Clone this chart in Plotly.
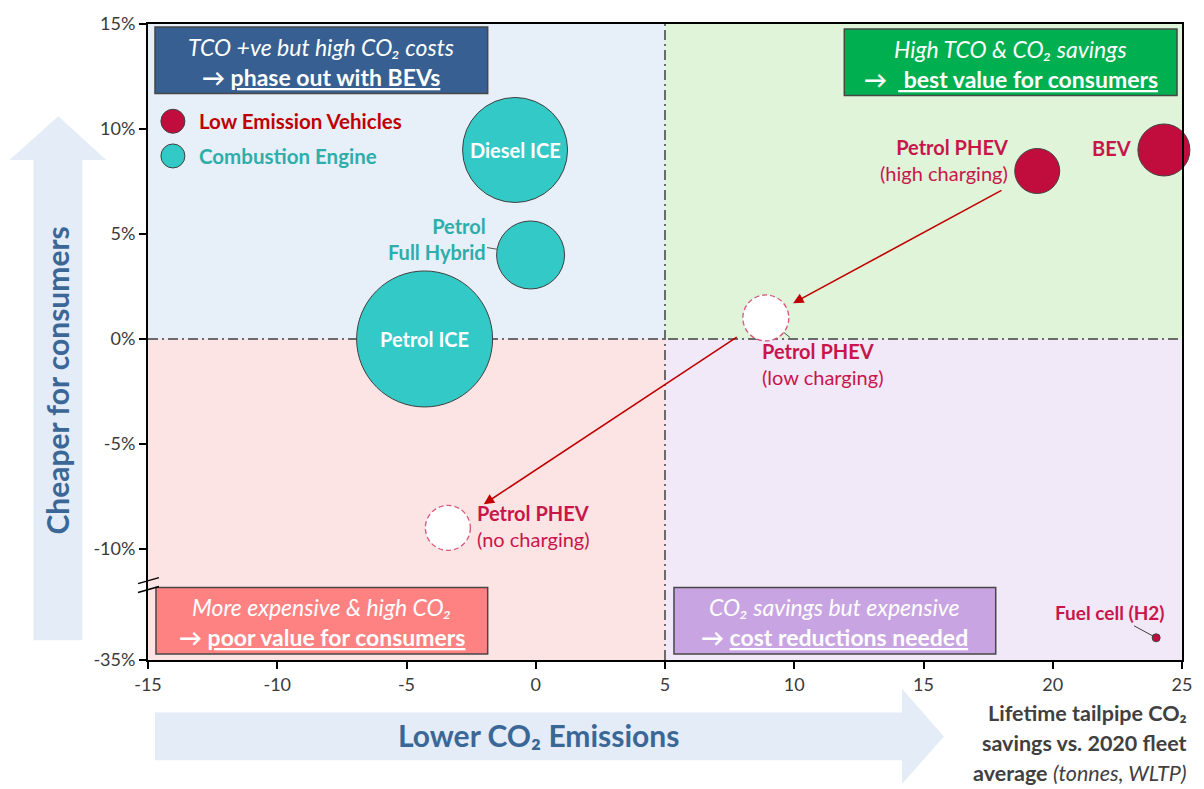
import plotly.graph_objects as go

# ---------------- data ----------------
vehicles = ["Petrol ICE", "Diesel ICE", "Petrol Full Hybrid",
            "Petrol PHEV (no charging)", "Petrol PHEV (low charging)",
            "Petrol PHEV (high charging)", "BEV", "Fuel cell (H2)"]
powertrain = ["Combustion Engine", "Combustion Engine", "Combustion Engine",
              "Low Emission Vehicles", "Low Emission Vehicles",
              "Low Emission Vehicles", "Low Emission Vehicles",
              "Low Emission Vehicles"]
co2_savings = [-4.3, -0.8, -0.2, -3.4, 8.9, 19.4, 24.3, 24.0]     # tonnes
tco_advantage = [0, 9, 4, -9, 1, 8, 9, -30]                      # %
bubble_value = [13.6, 10.5, 6.8, 4.5, 4.6, 4.5, 5.2, 0.8]

x_ticks = [-15, -10, -5, 0, 5, 10, 15, 20, 25]
x_tick_labels = ["-15", "-10", "-5", "0", "5", "10", "15", "20", "25"]
y_ticks = [15, 10, 5, 0, -5, -10, -35]
y_tick_labels = ["15%", "10%", "5%", "0%", "-5%", "-10%", "-35%"]

# ---------------- layout constants ----------------
W, H = 1204, 789
M_L, M_R, M_T, M_B = 148, 18, 19, 129
PW, PH = W - M_L - M_R, H - M_T - M_B

FONT = "Lato, 'Open Sans', sans-serif"
LEV_FILL, LEV_TEXT, LEV_LEGEND = "#C00D3D", "#C8164B", "#C00000"
ICE_FILL, ICE_TEXT = "#33C9C6", "#2DAEAA"
AXIS_TEXT = "#3A3A3A"
ARROW_BLUE, ARROW_TEXT = "#E3ECF7", "#3B6797"
HOLLOW = {"Petrol PHEV (no charging)", "Petrol PHEV (low charging)"}

# broken y axis: values below -10% are compressed down to -35%
Y_BREAK, Y_BOTTOM, Y_BOTTOM_T = -10.0, -35.0, -15.29


def ty(v):
    if v >= Y_BREAK:
        return v
    return Y_BREAK + (v - Y_BREAK) * (Y_BOTTOM_T - Y_BREAK) / (Y_BOTTOM - Y_BREAK)


def px(xp):
    return (xp - M_L) / PW


def py(yp):
    return (H - M_B - yp) / PH


idx = {name: i for i, name in enumerate(vehicles)}
X_MIN, X_MAX, Y_MAX = -15, 25, 15
Y_MIN = ty(Y_BOTTOM)

fig = go.Figure()

# ---------------- bubbles ----------------
for group, fill in [("Combustion Engine", ICE_FILL), ("Low Emission Vehicles", LEV_FILL)]:
    sel = [i for i in range(len(vehicles)) if powertrain[i] == group]
    fig.add_trace(go.Scatter(
        x=[co2_savings[i] for i in sel],
        y=[ty(tco_advantage[i]) for i in sel],
        mode="markers",
        text=[vehicles[i] for i in sel],
        hoverinfo="text",
        cliponaxis=False,
        showlegend=False,
        marker=dict(
            size=[bubble_value[i] for i in sel],
            sizemode="diameter", sizeref=0.1, opacity=1,
            color=["white" if vehicles[i] in HOLLOW else fill for i in sel],
            line=dict(color=["rgba(0,0,0,0)" if vehicles[i] in HOLLOW else "#404040" for i in sel],
                      width=1),
        ),
    ))

shapes = []

# quadrant backgrounds
quadrants = [
    (X_MIN, 5, 0, Y_MAX, "#E7EFF9"),
    (5, X_MAX, 0, Y_MAX, "#E0F4DA"),
    (X_MIN, 5, Y_MIN, 0, "#FDE4E4"),
    (5, X_MAX, Y_MIN, 0, "#F2E9F8"),
]
for x0, x1, y0, y1, c in quadrants:
    shapes.append(dict(type="rect", xref="x", yref="y", x0=x0, x1=x1, y0=y0, y1=y1,
                       fillcolor=c, line=dict(width=0), layer="below"))

# quadrant dividers
divider = dict(color="#404040", width=1.5, dash="10px,4px,2px,4px")
shapes.append(dict(type="line", xref="x", yref="y", x0=5, x1=5, y0=Y_MIN, y1=Y_MAX,
                   line=divider, layer="below"))
shapes.append(dict(type="line", xref="x", yref="y", x0=X_MIN, x1=X_MAX, y0=0, y1=0,
                   line=divider, layer="below"))

# dashed outlines for the hollow PHEV scenarios
for name in HOLLOW:
    i = idx[name]
    r = bubble_value[i] * 10 / 2
    shapes.append(dict(type="circle", xref="x", yref="y",
                       xsizemode="pixel", ysizemode="pixel",
                       xanchor=co2_savings[i], yanchor=ty(tco_advantage[i]),
                       x0=-r, x1=r, y0=-r, y1=r,
                       line=dict(color="#D8557C", width=1.3, dash="5px,3px")))

# quadrant message boxes
boxes = [
    (155, 489, 22, 89, "#375F91",
     "TCO +ve but high CO₂ costs", "→ <u>phase out with BEVs</u>"),
    (847, 1181, 24, 91, "#00B050",
     "High TCO &amp; CO₂ savings", "→  <u> best value for consumers</u>"),
    (156, 489, 587, 654, "#FF8282",
     "More expensive &amp; high CO₂", "→ <u>poor value for consumers</u>"),
    (676, 999, 587, 654, "#C8A5E2",
     "CO₂ savings but expensive", "→ <u>cost reductions needed</u>"),
]
annotations = []
for x0, x1, y0, y1, c, l1, l2 in boxes:
    shapes.append(dict(type="rect", xref="paper", yref="paper",
                       x0=px(x0), x1=px(x1), y0=py(y1), y1=py(y0),
                       fillcolor=c, line=dict(color="#474747", width=1.5), layer="above"))
    cx = px((x0 + x1) / 2)
    annotations.append(dict(xref="paper", yref="paper", x=cx, y=py(y0 + 20),
                            text="<i>" + l1 + "</i>", showarrow=False,
                            xanchor="center", yanchor="middle",
                            font=dict(family=FONT, size=23, color="white")))
    annotations.append(dict(xref="paper", yref="paper", x=cx, y=py(y0 + 50),
                            text="<b>" + l2 + "</b>", showarrow=False,
                            xanchor="center", yanchor="middle",
                            font=dict(family=FONT, size=23, color="white")))

# legend
for yy, fill, label, tc in [(117, LEV_FILL, "Low Emission Vehicles", LEV_LEGEND),
                            (152, ICE_FILL, "Combustion Engine", ICE_TEXT)]:
    shapes.append(dict(type="circle", xref="paper", yref="paper",
                       xsizemode="pixel", ysizemode="pixel",
                       xanchor=px(173), yanchor=py(yy), x0=-12, x1=12, y0=-12, y1=12,
                       fillcolor=fill, line=dict(color="#404040", width=1)))
    annotations.append(dict(xref="paper", yref="paper", x=px(197), y=py(yy),
                            text="<b>" + label + "</b>", showarrow=False,
                            xanchor="left", yanchor="middle",
                            font=dict(family=FONT, size=20.5, color=tc)))

# big direction arrows
vx = [(33, 640), (33, 156), (9, 156), (58, 112), (106, 156), (82, 156), (82, 640)]
shapes.append(dict(type="path", xref="paper", yref="paper",
                   path="M " + " L ".join(f"{px(a):.5f},{py(b):.5f}" for a, b in vx) + " Z",
                   fillcolor=ARROW_BLUE, line=dict(width=0), layer="below"))
hx = [(155, 713), (905, 713), (905, 689), (947, 737), (905, 785), (905, 761), (155, 761)]
shapes.append(dict(type="path", xref="paper", yref="paper",
                   path="M " + " L ".join(f"{px(a):.5f},{py(b):.5f}" for a, b in hx) + " Z",
                   fillcolor=ARROW_BLUE, line=dict(width=0), layer="below"))
annotations.append(dict(xref="paper", yref="paper", x=px(57), y=py(378),
                        text="<b>Cheaper for consumers</b>", textangle=-90, showarrow=False,
                        xanchor="center", yanchor="middle",
                        font=dict(family=FONT, size=30, color=ARROW_TEXT)))
annotations.append(dict(xref="paper", yref="paper", x=px(540), y=py(736),
                        text="<b>Lower CO₂ Emissions</b>", showarrow=False,
                        xanchor="center", yanchor="middle",
                        font=dict(family=FONT, size=30, color=ARROW_TEXT)))

# axis break marks
for y_a, y_b in [(583, 577), (592, 586)]:
    shapes.append(dict(type="line", xref="paper", yref="paper",
                       x0=px(138), x1=px(159), y0=py(y_a), y1=py(y_b),
                       line=dict(color="black", width=1.5), layer="above"))

# x axis title
for yy, t in [(713, "<b>Lifetime tailpipe CO₂</b>"),
              (744, "<b>savings vs. 2020 fleet</b>"),
              (774, "<b>average</b> <i>(tonnes, WLTP)</i>")]:
    annotations.append(dict(xref="paper", yref="paper", x=px(1193), y=py(yy),
                            text=t, showarrow=False, xanchor="right", yanchor="middle",
                            font=dict(family=FONT, size=21.5, color="#404040")))


# ---------------- bubble labels ----------------
def pt(name):
    i = idx[name]
    return co2_savings[i], ty(tco_advantage[i])


def label(name, text, color, size=20, **kw):
    x, y = pt(name)
    d = dict(xref="x", yref="y", x=x, y=y, text=text, showarrow=False,
             font=dict(family=FONT, size=size, color=color))
    d.update(kw)
    annotations.append(d)


label("Petrol ICE", "<b>Petrol ICE</b>", "white", size=20)
label("Diesel ICE", "<b>Diesel ICE</b>", "white", size=20)
label("Petrol Full Hybrid", "<b>Petrol<br>Full Hybrid</b>", ICE_TEXT, align="right",
      showarrow=True, ax=-94, ay=-16, arrowhead=0, arrowwidth=1, arrowcolor="#555555",
      standoff=34)
label("Petrol PHEV (high charging)", "<b>Petrol PHEV</b><br>(high charging)", LEV_TEXT,
      align="right", xanchor="right", yanchor="middle", xshift=-27, yshift=11)
label("BEV", "<b>BEV</b>", LEV_TEXT, xanchor="right", yanchor="middle", xshift=-31, yshift=2)
label("Petrol PHEV (low charging)", "<b>Petrol PHEV</b><br>(low charging)", LEV_TEXT,
      align="left", showarrow=True, ax=57, ay=46, arrowhead=0, arrowwidth=1,
      arrowcolor="#555555", standoff=23)
label("Petrol PHEV (no charging)", "<b>Petrol PHEV</b><br>(no charging)", LEV_TEXT,
      align="left", xanchor="left", yanchor="middle", xshift=27, yshift=2)
label("Fuel cell (H2)", "<b>Fuel cell (H2)</b>", LEV_TEXT, size=19,
      showarrow=True, ax=-46, ay=-25, arrowhead=0, arrowwidth=1, arrowcolor="#404040",
      standoff=3)

# PHEV charging-behaviour arrows
for start, end, s_start, s_end in [
        ("Petrol PHEV (high charging)", "Petrol PHEV (low charging)", 39, 31),
        ("Petrol PHEV (low charging)", "Petrol PHEV (no charging)", 33, 43)]:
    x0, y0 = pt(start)
    x1, y1 = pt(end)
    annotations.append(dict(xref="x", yref="y", axref="x", ayref="y",
                            x=x1, y=y1, ax=x0, ay=y0, text="", showarrow=True,
                            arrowhead=2, arrowsize=1.3, arrowwidth=1.6,
                            arrowcolor="#C00000", standoff=s_end, startstandoff=s_start))

axis_common = dict(showgrid=False, zeroline=False, showline=True, linecolor="black",
                   linewidth=2, mirror=True, ticks="outside", ticklen=7, tickwidth=1.5,
                   tickcolor="black",
                   tickfont=dict(family=FONT, size=18, color=AXIS_TEXT))

fig.update_layout(
    width=W, height=H,
    margin=dict(l=M_L, r=M_R, t=M_T, b=M_B),
    paper_bgcolor="white", plot_bgcolor="white",
    showlegend=False,
    shapes=shapes, annotations=annotations,
    xaxis=dict(range=[X_MIN, X_MAX], tickvals=x_ticks, ticktext=x_tick_labels,
               **axis_common),
    yaxis=dict(range=[Y_MIN, Y_MAX], tickvals=[ty(v) for v in y_ticks],
               ticktext=y_tick_labels, **axis_common),
)

fig.write_html("out.html")
